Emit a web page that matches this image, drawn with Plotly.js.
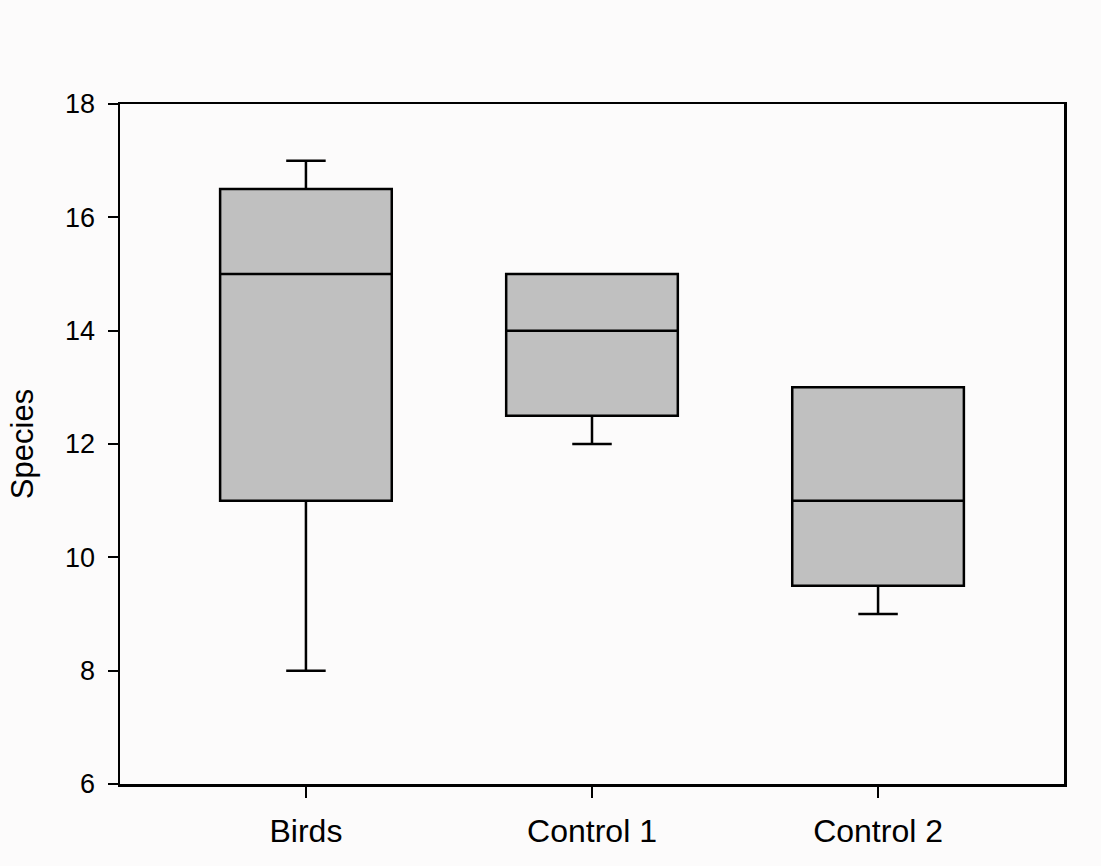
<!DOCTYPE html>
<html>
<head>
<meta charset="utf-8">
<script src="https://cdn.plot.ly/plotly-3.0.1.min.js"></script>
<style>html,body{margin:0;padding:0;background:#fcfbfb;}</style>
</head>
<body>
<div id="chart" style="width:1101px;height:866px;"></div>
<script>
const categories = ["Birds", "Control 1", "Control 2"];
const lowerWhisker = [8, 12, 9];
const q1Values = [11, 12.5, 9.5];
const medianValues = [15, 14, 11];
const q3Values = [16.5, 15, 13];
const upperWhisker = [17, 15, 13];
const yTickValues = [6, 8, 10, 12, 14, 16, 18];

const trace = {
  type: "box",
  x: categories,
  q1: q1Values,
  median: medianValues,
  q3: q3Values,
  lowerfence: lowerWhisker,
  upperfence: upperWhisker,
  width: 0.6,
  whiskerwidth: 0.23,
  fillcolor: "#c0c0c0",
  line: {color: "#000000", width: 2.5},
  boxpoints: false,
  hoverinfo: "skip",
  showlegend: false
};

const layout = {
  width: 1101,
  height: 866,
  margin: {l: 120, r: 37, t: 104, b: 82},
  paper_bgcolor: "#fcfbfb",
  plot_bgcolor: "#fcfbfb",
  font: {family: "Liberation Sans, Arial, sans-serif", color: "#000000"},
  showlegend: false,
  xaxis: {
    type: "category",
    range: [-0.65, 2.65],
    showline: true, linecolor: "#000000", linewidth: 2.5, mirror: true,
    ticks: "outside", ticklen: 11, tickwidth: 2, tickcolor: "#000000",
    tickfont: {size: 32, color: "#000000"},
    ticklabelstandoff: 6,
    showgrid: false, zeroline: false, fixedrange: true
  },
  yaxis: {
    range: [6, 18],
    tickvals: yTickValues,
    ticktext: yTickValues.map(String),
    showline: true, linecolor: "#000000", linewidth: 2.5, mirror: true,
    ticks: "outside", ticklen: 10, tickwidth: 2, tickcolor: "#000000",
    tickfont: {size: 27, color: "#000000"},
    ticklabelstandoff: 7,
    showgrid: false, zeroline: false, fixedrange: true,
    title: {text: "Species", font: {size: 31, color: "#000000"}, standoff: 22}
  }
};

Plotly.newPlot("chart", [trace], layout, {displayModeBar: false, staticPlot: true});
</script>
</body>
</html>
